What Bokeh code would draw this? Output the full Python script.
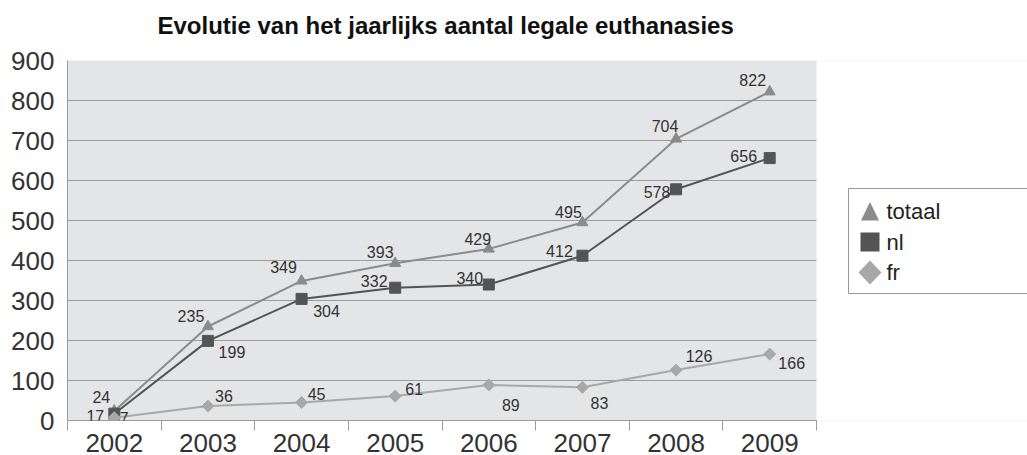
import math
from bokeh.plotting import figure
from bokeh.models import (Range1d, LinearAxis, FixedTicker, ColumnDataSource, LabelSet,
                          Grid, BoxAnnotation, PolyAnnotation, Label)
from bokeh.core.properties import value
from bokeh.embed import file_html
from bokeh.resources import INLINE

# ---- data ----
years = ["2002", "2003", "2004", "2005", "2006", "2007", "2008", "2009"]
totaal = [24, 235, 349, 393, 429, 495, 704, 822]
nl = [17, 199, 304, 332, 340, 412, 578, 656]
fr = [7, 36, 45, 61, 89, 83, 126, 166]
y_ticks = [0, 100, 200, 300, 400, 500, 600, 700, 800, 900]
series_names = ["totaal", "nl", "fr"]
title_text = "Evolutie van het jaarlijks aantal legale euthanasies"

# ---- label offsets (screen px; dy positive = up) ----
totaal_dx = [-13, -17, -18, -15, -11, -14, -11, -17]
totaal_dy = [14, 11, 14, 11, 10, 11, 13, 12]
nl_dx = [-19, 24, 25, -21, -19, -23, -19, -26]
nl_dy = [-2, -11, -12, 7, 7, 5, -3, 2]
fr_dx = [10, 16, 15, 19, 22, 17, 23, 22]
fr_dy = [0, 10, 9, 7, -20, -16, 14, -9]

FONT = "Liberation Sans"
C_TOT = "#8b8b8b"
C_NL = "#545454"
C_FR = "#a8a8a9"
GRID = "#9c9c9c"
TXT = "#333333"

# ---- layout (canvas px) ----
W, H = 1027, 455
PLOT_L, PLOT_R, PLOT_T, PLOT_B = 67, 816, 60, 420   # grey plot area
FRAME_R = W                                          # frame extends under the legend
n = len(years)
x_end = n * (FRAME_R - PLOT_L) / (PLOT_R - PLOT_L)

xs = [i + 0.5 for i in range(n)]

p = figure(width=W, height=H,
           x_range=Range1d(0, x_end), y_range=Range1d(0, 900),
           x_axis_type=None, y_axis_type=None,
           output_backend="svg", toolbar_location=None,
           min_border_left=PLOT_L, min_border_right=W - FRAME_R,
           min_border_top=PLOT_T, min_border_bottom=H - PLOT_B,
           background_fill_color="#e4e5e6", border_fill_color="white",
           outline_line_color=None,
           title=title_text)

p.title.text_font = FONT
p.title.text_font_size = "24px"
p.title.text_font_style = "bold"
p.title.text_color = "#111111"
p.title.align = "left"
p.title.offset = 90
p.title.standoff = 19

# empty spacer (12 px) between the title and the plot area: one white tick, no label
spacer = LinearAxis(ticker=FixedTicker(ticks=[xs[0]]), axis_line_color=None,
                    major_tick_out=12, major_tick_in=0, major_tick_line_color="white",
                    minor_tick_out=0, major_label_standoff=0, axis_label_standoff=0,
                    major_label_overrides={xs[0]: ""})
p.add_layout(spacer, "above")

def sx(cx): return cx - PLOT_L      # canvas px -> screen units (from frame left)
def sy(cy): return PLOT_B - cy      # canvas px -> screen units (from frame bottom, upwards)

# y axis
yticker = FixedTicker(ticks=y_ticks)
yaxis = LinearAxis(ticker=yticker)
yaxis.axis_line_color = GRID
yaxis.major_tick_out = 0
yaxis.major_tick_in = 0
yaxis.minor_tick_out = 0
yaxis.major_label_standoff = 13
yaxis.major_label_text_font = FONT
yaxis.major_label_text_font_size = "26px"
yaxis.major_label_text_color = TXT
p.add_layout(yaxis, "left")
p.add_layout(Grid(dimension=1, ticker=yticker, grid_line_color=GRID, grid_line_width=1))

# white area to the right of the plot area (covers background + grid)
p.add_layout(BoxAnnotation(left=n, top=PLOT_B - PLOT_T + 4, top_units="screen",
                           fill_color="white", fill_alpha=1.0,
                           line_alpha=0, level="underlay"))

# x axis (labels at category centres, ticks at category boundaries)
xticker = FixedTicker(ticks=xs, minor_ticks=list(range(0, n + 1)))
xaxis = LinearAxis(ticker=xticker, bounds=(0, n))
xaxis.major_label_overrides = {x: y for x, y in zip(xs, years)}
xaxis.axis_line_color = GRID
xaxis.major_tick_out = 0
xaxis.major_tick_in = 0
xaxis.minor_tick_out = 10
xaxis.minor_tick_in = 0
xaxis.minor_tick_line_color = GRID
xaxis.major_label_standoff = 3
xaxis.major_label_text_font = FONT
xaxis.major_label_text_font_size = "26px"
xaxis.major_label_text_color = TXT
p.add_layout(xaxis, "below")

def series(vals, dx, dy, color, marker, size, angle=0.0):
    src = ColumnDataSource(dict(x=xs, y=vals, text=[str(v) for v in vals], dx=dx, dy=dy))
    p.line("x", "y", source=src, line_color=color, line_width=2)
    p.scatter("x", "y", source=src, marker=marker, size=size, angle=angle,
              fill_color=color, line_color=color)
    p.add_layout(LabelSet(x="x", y="y", text="text", x_offset="dx", y_offset="dy", source=src,
                          text_font=value(FONT), text_font_size="16px", text_color=TXT,
                          text_align="center", text_baseline="middle"))

series(totaal, totaal_dx, totaal_dy, C_TOT, "triangle", 11)
series(nl, nl_dx, nl_dy, C_NL, "square", 11)
series(fr, fr_dx, fr_dy, C_FR, "square", 8.5, math.pi / 4)

# ---- legend ----
LEG_L, LEG_T, LEG_B = 848, 188, 293          # canvas px
ROW0, ROW_STEP = 211, 30.5                   # canvas px, first row centre / row pitch
KEY_CX, TEXT_X = 869.5, 886

p.add_layout(BoxAnnotation(left=sx(LEG_L), right=sx(W + 5), top=sy(LEG_T), bottom=sy(LEG_B),
                           left_units="screen", right_units="screen",
                           top_units="screen", bottom_units="screen",
                           fill_color="white", fill_alpha=1.0,
                           line_color="#999999", line_width=1, line_alpha=1.0,
                           level="annotation"))

key_colors = [C_TOT, C_NL, C_FR]
for k, (name, col) in enumerate(zip(series_names, key_colors)):
    cy = ROW0 + k * ROW_STEP
    if k == 0:      # triangle
        kx = [KEY_CX - 9, KEY_CX + 9, KEY_CX]
        ky = [cy + 9, cy + 9, cy - 9.5]
    elif k == 1:    # square
        kx = [KEY_CX - 9.5, KEY_CX + 9.5, KEY_CX + 9.5, KEY_CX - 9.5]
        ky = [cy - 9.5, cy - 9.5, cy + 9.5, cy + 9.5]
    else:           # diamond
        kx = [KEY_CX, KEY_CX + 11.5, KEY_CX, KEY_CX - 11.5]
        ky = [cy - 12, cy, cy + 12, cy]
    p.add_layout(PolyAnnotation(xs=[sx(v) for v in kx], ys=[sy(v) for v in ky],
                                xs_units="screen", ys_units="screen",
                                fill_color=col, fill_alpha=1.0, line_alpha=0,
                                level="annotation"))
    p.add_layout(Label(x=sx(TEXT_X), y=sy(cy), x_units="screen", y_units="screen",
                       text=name, text_font=FONT, text_font_size="22px",
                       text_color="#222222", text_baseline="middle", text_align="left"))

open("out.html", "w").write(file_html(p, INLINE))
